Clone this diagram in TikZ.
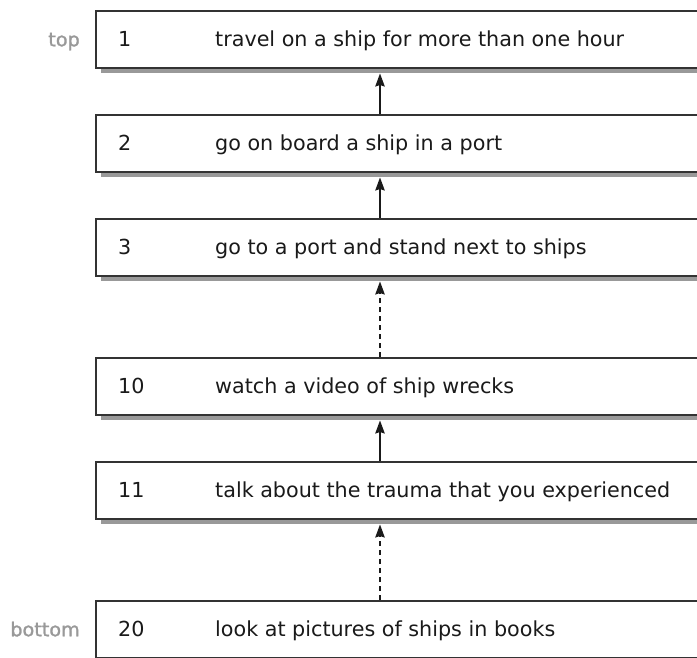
\documentclass[tikz,border=0pt]{standalone}
\usepackage{fontspec}
\setmainfont{DejaVu Sans}
\newfontfamily\sidefont[FakeBold=1.4]{DejaVu Sans}
\usetikzlibrary{shadows,arrows.meta}
\definecolor{edge}{HTML}{333333}
\definecolor{shade}{HTML}{999999}
\definecolor{side}{HTML}{999999}
\definecolor{ink}{HTML}{1A1A1A}
\tikzset{
  x=1pt, y=-1pt,
  stepbox/.style={draw=edge, line width=1.5pt, fill=white, minimum width=620pt,
    minimum height=57pt, anchor=north west, inner sep=0pt,
    drop shadow={shadow xshift=5pt, shadow yshift=-5pt, fill=shade, opacity=1}},
  num/.style={anchor=base west, text=ink, font=\fontsize{20.7}{24}\selectfont, inner sep=0pt},
  desc/.style={anchor=base west, text=ink, font=\fontsize{20.7}{24}\selectfont, inner sep=0pt},
  side/.style={anchor=base east, text=side, font=\sidefont\fontsize{19.2}{22}\selectfont, inner sep=0pt},
  arr/.style={-{Stealth[length=13pt,width=9.5pt,inset=1.5pt]}, line width=1.4pt, draw=ink},
  darr/.style={arr, dash pattern=on 5pt off 4pt}
}
\begin{document}
\begin{tikzpicture}
\useasboundingbox (0,0) rectangle (697,657);
\clip (0,0) rectangle (697,657);
\node[stepbox] (b1) at (95,10) {};
\node[stepbox] (b2) at (95,114) {};
\node[stepbox] (b3) at (95,218) {};
\node[stepbox] (b10) at (95,357) {};
\node[stepbox] (b11) at (95,461) {};
\node[stepbox] (b20) at (95,600) {};
% step numbers and descriptions, on a common baseline below the box centre
\foreach \b/\n/\t in {b1/1/travel on a ship for more than one hour,
                      b2/2/go on board a ship in a port,
                      b3/3/go to a port and stand next to ships,
                      b10/10/watch a video of ship wrecks,
                      b11/11/talk about the trauma that you experienced,
                      b20/20/look at pictures of ships in books}{
  \node[num] (\b n) at ([xshift=23pt,yshift=-7.5pt]\b.west) {\n};
  \node[desc] (\b t) at ([xshift=120pt,yshift=-7.5pt]\b.west) {\t};
}
\node[side] (top) at ([xshift=-15pt,yshift=-7pt]b1.west) {top};
\node[side] (bottom) at ([xshift=-15pt,yshift=-7pt]b20.west) {bottom};
% links between steps
\draw[arr] ([xshift=285pt]b2.north west) -- ([xshift=285pt,yshift=-5pt]b1.south west);
\draw[arr] ([xshift=285pt]b3.north west) -- ([xshift=285pt,yshift=-5pt]b2.south west);
\draw[darr] ([xshift=285pt]b10.north west) -- ([xshift=285pt,yshift=-5pt]b3.south west);
\draw[arr] ([xshift=285pt]b11.north west) -- ([xshift=285pt,yshift=-5pt]b10.south west);
\draw[darr] ([xshift=285pt]b20.north west) -- ([xshift=285pt,yshift=-5pt]b11.south west);
\end{tikzpicture}
\end{document}
